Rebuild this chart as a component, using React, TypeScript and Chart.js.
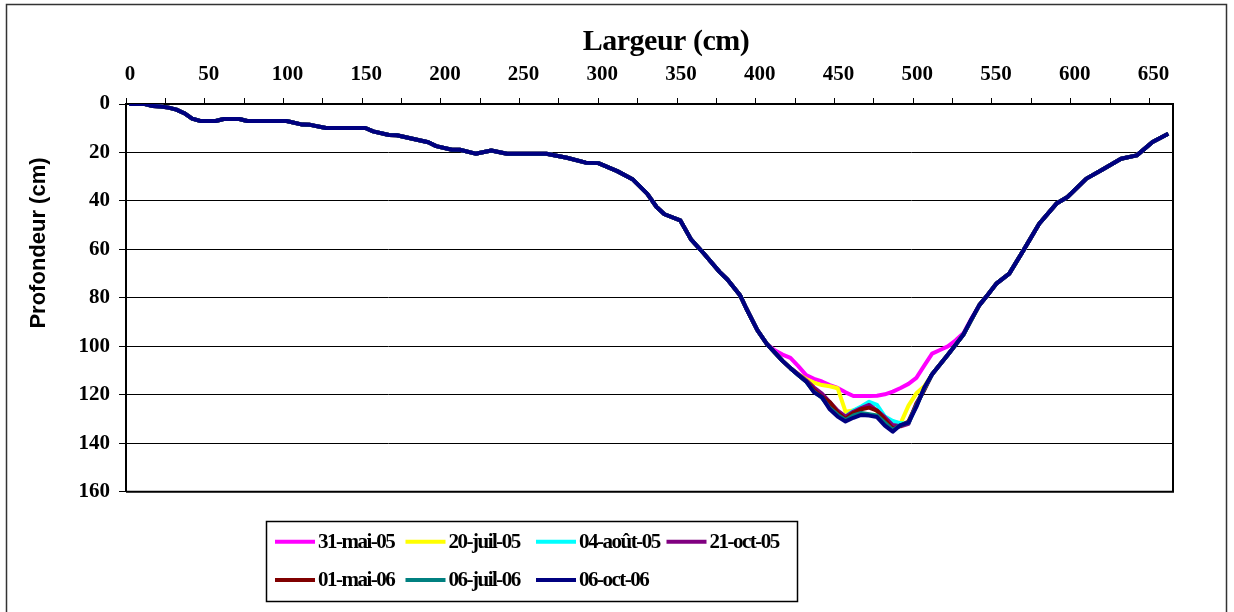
import React, { useEffect, useRef } from "react";
import { Chart, registerables } from "chart.js";

Chart.register(...registerables);

// ---- data ----
const seriesLabels = ["31-mai-05", "20-juil-05", "04-août-05", "21-oct-05", "01-mai-06", "06-juil-06", "06-oct-06"];
const seriesColors = ["#FF00FF", "#FFFF00", "#00FFFF", "#800080", "#800000", "#008080", "#000080"];

// common left bank (all surveys identical)
const xLeft = [2, 12, 17, 22, 27, 32, 37, 42, 47, 57, 62, 72, 77, 102, 112, 117, 127, 152, 157, 167, 172, 192, 197, 207, 212, 222, 232, 242, 267, 280, 292, 300, 312, 322, 331, 337, 342, 352, 359, 367, 377, 382, 390, 394, 401, 407];
const depthLeft = [0, 0, 0.8, 1, 1.5, 2.3, 3.8, 6, 7, 7, 6.2, 6.2, 7, 7, 8.5, 8.6, 9.9, 9.9, 11.3, 12.8, 12.9, 15.8, 17.4, 18.9, 18.9, 20.5, 19.2, 20.5, 20.5, 22.2, 24.2, 24.4, 27.7, 31.2, 37, 42.5, 45.5, 48, 56, 61.7, 69.3, 72.4, 78.9, 84.4, 93.3, 99];

// channel bottom (surveys differ)
const xBottom = [412, 417, 422, 427, 432, 437, 442, 447, 452, 457, 462, 467, 472, 477, 482, 487, 492, 497, 502, 507, 512, 517, 522, 527, 532, 537, 542];
const depthMai05 = [101.6, 103.4, 104.8, 108.2, 111.9, 113.4, 114.5, 116, 117.2, 119, 120.5, 120.5, 120.5, 120.4, 119.8, 118.7, 117.2, 115.5, 113, 108, 103, 101.5, 100, 97.5, 94.5, 88.5, 83];
const depthJuil05 = [102.5, 106, 109, 111.5, 113.5, 115, 116, 116.5, 117.3, 127, 126.5, 125.3, 123.5, 126.8, 130, 131, 131.8, 124.5, 119.4, 116.5, 111.5, 107.5, 103.5, 99.3, 95, 89, 83];
const depthAout05 = [102.5, 106, 109, 111.8, 114.5, 118.5, 120.5, 124.5, 127.5, 129, 126.5, 124.8, 122.9, 124.2, 129, 130.8, 131.8, 131.8, 124.5, 117.5, 111.5, 107.5, 103.5, 99.3, 95, 89, 83];
const depthOct05 = [102.5, 106, 109, 111.5, 114, 117, 119.5, 123, 126.5, 129, 127, 125.5, 124.2, 126.5, 129.3, 132.5, 133, 132, 123.5, 118, 111.5, 107.5, 103.5, 99.3, 95, 89, 83];
const depthMai06 = [102.5, 106, 109, 111.8, 114.5, 118, 120.8, 123, 127.3, 130, 127.5, 126, 125.3, 126.5, 130.2, 134, 132.8, 131, 124, 118, 111.5, 107.5, 103.5, 99.3, 95, 89, 83];
const depthJuil06 = [102.5, 106, 109, 111.8, 114.5, 118.8, 121.2, 125.5, 128.3, 130.5, 128.5, 127.5, 128, 128.5, 131.5, 134.5, 132.5, 131.5, 124.5, 117.5, 111.5, 107.5, 103.5, 99.3, 95, 89, 83];
const depthOct06 = [102.5, 106, 109, 111.8, 114.5, 119, 121, 126, 129, 131, 129.5, 128.3, 128.6, 129.2, 132.7, 135.2, 132.5, 131.5, 125, 117, 111.5, 107.5, 103.5, 99.3, 95, 88.7, 83];

// common right bank
const xRight = [547, 553, 561, 570, 580, 591, 598, 610, 620, 632, 642, 652, 662];
const depthRight = [79, 74, 70, 60.4, 49.4, 41.1, 38.4, 30.8, 27.1, 22.6, 21.2, 15.7, 12.3];

const bottomSeries = [depthMai05, depthJuil05, depthAout05, depthOct05, depthMai06, depthJuil06, depthOct06];

// axes
const xTicks = [0, 25, 50, 75, 100, 125, 150, 175, 200, 225, 250, 275, 300, 325, 350, 375, 400, 425, 450, 475, 500, 525, 550, 575, 600, 625, 650];
const xTickLabels = [0, 50, 100, 150, 200, 250, 300, 350, 400, 450, 500, 550, 600, 650];
const yTicks = [0, 20, 40, 60, 80, 100, 120, 140, 160];
const xTitle = "Largeur (cm)";
const yTitle = "Profondeur (cm)";

const SERIF = "'Liberation Serif', 'Times New Roman', serif";
const SANS = "'Liberation Sans', Arial, sans-serif";

const decorPlugin = {
  id: "decor",
  beforeDraw(chart: any) {
    const ctx = chart.ctx;
    ctx.save();
    ctx.fillStyle = "#fff";
    ctx.fillRect(0, 0, chart.width, chart.height);
    ctx.restore();
  },
  beforeDatasetsDraw(chart: any) {
    const { left, right, top, bottom } = chart.chartArea;
    const ctx = chart.ctx;
    ctx.save();
    ctx.strokeStyle = "#000";
    ctx.lineWidth = 2;
    ctx.beginPath();
    ctx.moveTo(left, bottom);
    ctx.lineTo(right, bottom);
    ctx.lineTo(right, top);
    ctx.stroke();
    ctx.restore();
  },
  afterDraw(chart: any) {
    const ctx = chart.ctx;
    ctx.save();
    // outer frame
    ctx.strokeStyle = "#333";
    ctx.lineWidth = 1.5;
    ctx.strokeRect(6.5, 4.5, 1220, 700);

    // x title
    ctx.fillStyle = "#000";
    ctx.font = `bold 30px ${SERIF}`;
    (ctx as any).letterSpacing = "-0.5px";
    ctx.textAlign = "center";
    ctx.textBaseline = "alphabetic";
    ctx.fillText(xTitle, 666, 50);
    (ctx as any).letterSpacing = "0px";

    // y title
    ctx.save();
    ctx.translate(39, 243);
    ctx.rotate(-Math.PI / 2);
    ctx.font = `bold 22px ${SANS}`;
    ctx.textAlign = "center";
    ctx.textBaseline = "middle";
    ctx.fillText(yTitle, 0, 0);
    ctx.restore();

    // legend
    ctx.strokeStyle = "#000";
    ctx.lineWidth = 1.5;
    ctx.strokeRect(266.5, 521.5, 531, 80);
    ctx.font = `bold 21px ${SERIF}`;
    (ctx as any).letterSpacing = "-1.5px";
    ctx.textAlign = "left";
    ctx.textBaseline = "middle";
    chart.data.datasets.forEach((ds: any, i: number) => {
      const col = i % 4;
      const row = Math.floor(i / 4);
      const x0 = 275 + col * 130.5;
      const y = 541.7 + row * 38.3;
      ctx.strokeStyle = ds.borderColor;
      ctx.lineWidth = 4;
      ctx.beginPath();
      ctx.moveTo(x0, y);
      ctx.lineTo(x0 + 40, y);
      ctx.stroke();
      ctx.fillStyle = "#000";
      ctx.fillText(ds.label, x0 + 43, y + 1);
    });
    ctx.restore();
  },
};

export default function App() {
  const canvasRef = useRef<HTMLCanvasElement | null>(null);

  useEffect(() => {
    if (!canvasRef.current) return;
    const xAll = [...xLeft, ...xBottom, ...xRight];
    const datasets = seriesLabels.map((label, i) => {
      const depths = [...depthLeft, ...bottomSeries[i], ...depthRight];
      return {
        label,
        data: xAll.map((x, k) => ({ x, y: depths[k] })),
        borderColor: seriesColors[i],
        backgroundColor: seriesColors[i],
        borderWidth: 4,
        pointRadius: 0,
        showLine: true,
        fill: false,
        tension: 0,
        borderJoinStyle: "round" as const,
        order: seriesLabels.length - 1 - i,
      };
    });

    const chart = new Chart(canvasRef.current, {
      type: "scatter",
      data: { datasets },
      plugins: [decorPlugin],
      options: {
        responsive: false,
        animation: false,
        devicePixelRatio: 1,
        layout: { padding: { left: 0, top: 0, right: 61, bottom: 120.3 } },
        plugins: { legend: { display: false }, tooltip: { enabled: false } },
        scales: {
          x: {
            type: "linear",
            position: "top",
            min: 0,
            max: 665,
            afterBuildTicks: (s: any) => {
              s.ticks = xTicks.map((v) => ({ value: v }));
            },
            afterFit: (s: any) => {
              s.height = 104;
            },
            ticks: {
              autoSkip: false,
              maxRotation: 0,
              minRotation: 0,
              padding: 11,
              labelOffset: 4,
              color: "#000",
              font: { family: SERIF, size: 21, weight: "bold" },
              callback: (v: any) => (xTickLabels.includes(Number(v)) ? String(v) : ""),
            },
            grid: { drawOnChartArea: false, drawTicks: true, tickLength: 6, color: "#000", lineWidth: 1 },
            border: { display: true, color: "#000", width: 2 },
          },
          y: {
            type: "linear",
            reverse: true,
            min: 0,
            max: 160,
            afterBuildTicks: (s: any) => {
              s.ticks = yTicks.map((v) => ({ value: v }));
            },
            afterFit: (s: any) => {
              s.width = 126;
            },
            ticks: {
              autoSkip: false,
              padding: 9,
              color: "#000",
              font: { family: SERIF, size: 21, weight: "bold" },
            },
            grid: { color: "#000", lineWidth: 1, drawTicks: true, tickLength: 7 },
            border: { display: true, color: "#000", width: 2 },
          },
        },
      },
    } as any);
    return () => chart.destroy();
  }, []);

  return (
    <div style={{ position: "fixed", left: 0, top: 0, width: 1234, height: 612, background: "#fff" }}>
      <canvas ref={canvasRef} width={1234} height={612} style={{ display: "block" }} />
    </div>
  );
}
